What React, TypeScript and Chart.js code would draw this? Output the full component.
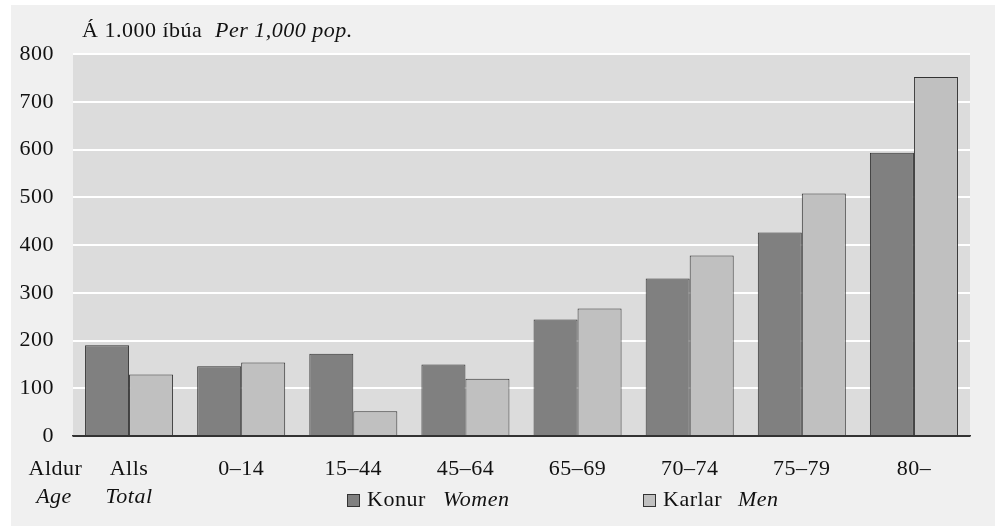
import React, { useEffect, useRef } from "react";
import { Chart, registerables } from "chart.js";

Chart.register(...registerables);

const categories = ["Alls", "0–14", "15–44", "45–64", "65–69", "70–74", "75–79", "80–"];
const women = [190, 146, 172, 150, 244, 330, 426, 593];
const men = [129, 154, 52, 120, 267, 378, 508, 752];
const yTicks = [0, 100, 200, 300, 400, 500, 600, 700, 800];

const FONT = '"Liberation Serif", "Times New Roman", serif';
const FS = 22;
const LS = "0.5px";

const decor = {
  id: "decor",
  beforeLayout(chart: any) {
    chart.ctx.letterSpacing = LS;
  },
  beforeDraw(chart: any) {
    const { ctx, chartArea } = chart;
    ctx.save();
    ctx.fillStyle = "#ffffff";
    ctx.fillRect(0, 0, chart.width, chart.height);
    ctx.fillStyle = "#f0f0f0";
    ctx.fillRect(11, 5, 984, chart.height - 5);
    ctx.fillStyle = "#dcdcdc";
    ctx.fillRect(chartArea.left, chartArea.top, chartArea.right - chartArea.left, chartArea.bottom - chartArea.top);
    ctx.restore();
    ctx.letterSpacing = LS;
  },
  afterDraw(chart: any) {
    const { ctx } = chart;
    const xs = chart.scales.x;
    ctx.save();
    ctx.letterSpacing = LS;
    ctx.fillStyle = "#111";
    ctx.textBaseline = "alphabetic";
    const normal = `${FS}px ${FONT}`;
    const italic = `italic ${FS}px ${FONT}`;
    // title
    ctx.textAlign = "left";
    ctx.font = normal;
    ctx.fillText("Á 1.000 íbúa", 82, 37);
    ctx.font = italic;
    ctx.fillText("Per 1,000 pop.", 215, 37);
    // axis caption
    ctx.textAlign = "center";
    ctx.font = normal;
    ctx.fillText("Aldur", 55.5, 475);
    ctx.font = italic;
    ctx.fillText("Age", 54, 503);
    ctx.fillText("Total", xs.getPixelForValue(0), 503);
    // legend
    const items = [
      { sq: 347, t1: "Konur", x1: 367, t2: "Women", x2: 443, ds: 0 },
      { sq: 643, t1: "Karlar", x1: 663, t2: "Men", x2: 738, ds: 1 },
    ];
    ctx.textAlign = "left";
    for (const it of items) {
      const d = chart.data.datasets[it.ds];
      ctx.fillStyle = d.backgroundColor;
      ctx.fillRect(it.sq, 494, 12, 12);
      ctx.strokeStyle = "#333";
      ctx.lineWidth = 1;
      ctx.strokeRect(it.sq + 0.5, 494.5, 12, 12);
      ctx.fillStyle = "#111";
      ctx.font = normal;
      ctx.fillText(it.t1, it.x1, 506);
      ctx.font = italic;
      ctx.fillText(it.t2, it.x2, 506);
    }
    ctx.restore();
  },
};

export default function App() {
  const ref = useRef<HTMLCanvasElement | null>(null);
  useEffect(() => {
    if (!ref.current) return;
    const chart = new Chart(ref.current, {
      type: "bar",
      data: {
        labels: categories,
        datasets: [
          {
            label: "Konur Women",
            data: women,
            backgroundColor: "#808080",
            borderColor: "#333333",
            borderWidth: 1,
          },
          {
            label: "Karlar Men",
            data: men,
            backgroundColor: "#c0c0c0",
            borderColor: "#333333",
            borderWidth: 1,
          },
        ],
      },
      options: {
        animation: false,
        responsive: false,
        maintainAspectRatio: false,
        layout: { padding: { left: 11, top: 54, right: 29, bottom: 0 } },
        datasets: { bar: { categoryPercentage: 0.785, barPercentage: 1 } },
        plugins: { legend: { display: false }, tooltip: { enabled: false }, title: { display: false } },
        scales: {
          x: {
            grid: { display: false, drawTicks: false },
            border: { display: true, color: "#333", width: 1.5 },
            ticks: { font: { family: FONT, size: FS }, color: "#111", padding: 20, maxRotation: 0, autoSkip: false },
            afterFit(scale: any) {
              scale.height = 90;
            },
          },
          y: {
            min: 0,
            max: 800,
            afterBuildTicks(scale: any) {
              scale.ticks = yTicks.map((v) => ({ value: v }));
            },
            grid: {
              drawTicks: false,
              color: (c: any) => (c.tick && c.tick.value === 0 ? "#333" : "#ffffff"),
              lineWidth: 2,
            },
            border: { display: false },
            ticks: { font: { family: FONT, size: FS }, color: "#111", padding: 19 },
            afterFit(scale: any) {
              scale.width = 62;
            },
          },
        },
      },
      plugins: [decor],
    });
    return () => chart.destroy();
  }, []);
  return (
    <div style={{ position: "fixed", left: 0, top: 0, width: 999, height: 526, background: "#fff" }}>
      <canvas ref={ref} width={999} height={526} style={{ display: "block", width: 999, height: 526 }} />
    </div>
  );
}
